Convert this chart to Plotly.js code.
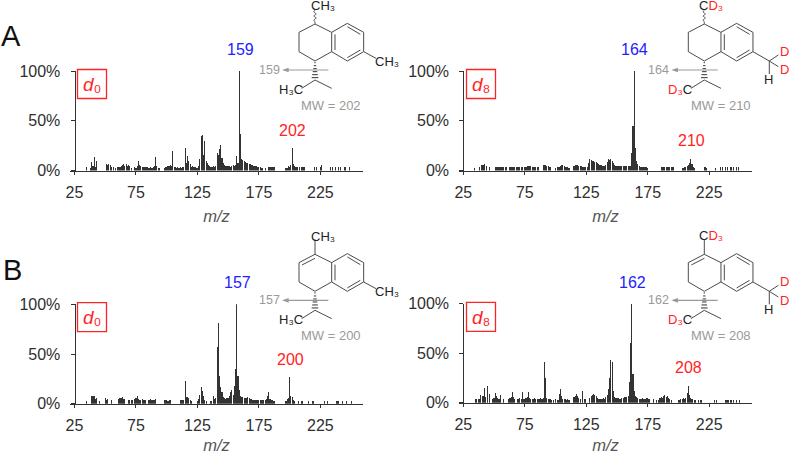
<!DOCTYPE html>
<html><head><meta charset="utf-8">
<script src="https://cdn.plot.ly/plotly-3.0.1.min.js"></script>
<style>html,body{margin:0;padding:0;background:#fff}#c{width:789px;height:454px}</style>
</head><body><div id="c"></div>
<script>
const tickVals=[25,75,125,175,225];
const tickPct=[0,50,100];
const tickPctText=['0%','50%','100%'];

const mzA0=[35,38,39,40,41,42,43,51,52,53,
54,55,57,58,60,61,62,63,64,65,
66,67,68,69,70,71,74,75,76,77,
78,79,80,81,82,83,84,85,86,87,
88,89,90,91,92,93,94,98,99,100,
101,102,103,104,105,106,107,108,109,110,
111,112,113,114,115,116,117,118,119,120,
121,122,123,124,125,126,127,128,129,130,
131,132,133,134,135,136,137,138,139,140,
141,142,143,144,145,146,147,148,149,150,
151,152,153,154,155,156,157,158,159,160,
161,162,163,164,165,166,167,168,169,170,
171,172,173,174,175,176,177,178,180,183,
184,185,186,187,188,197,198,199,200,201,
202,203,204,205,206,208,210,211,212,220,
222,225,226,233,235,237,240,241,245,249];
const intA0=[4,3,9,5,14,4,10,7,6,7,
6,4,4,3,4,4,4,5,6,7,
5,7,5,6,5,3,4,3,5,10,
6,5,4,4,4,4,4,3,3,4,
3,4,5,14,5,3,3,3,4,4,
5,5,6,5,20,4,4,3,4,3,
4,3,4,4,23,8,15,10,7,4,
5,4,4,3,3,5,12,35,36,16,
30,10,8,6,5,4,4,5,4,5,
18,16,22,26,13,8,6,5,5,5,
5,4,5,6,5,6,15,8,100,37,
12,11,10,9,8,8,7,7,6,6,
5,5,5,4,4,4,3,3,3,4,
4,4,4,4,4,3,3,5,4,6,
23,7,5,4,4,4,4,4,4,4,
4,4,6,4,4,4,4,4,4,4];

const mzA8=[34,38,40,41,42,44,46,51,52,53,
54,55,56,57,58,59,60,63,64,65,
66,67,68,69,70,71,72,73,75,76,
77,78,79,80,81,82,83,84,85,86,
90,91,92,93,94,95,96,100,102,103,
104,105,106,107,108,109,110,111,115,116,
117,118,119,120,121,122,123,124,126,127,
128,129,130,131,132,133,134,135,136,137,
138,139,140,141,142,143,144,145,146,147,
148,149,150,151,152,153,154,155,156,157,
158,159,160,161,162,163,164,165,166,167,
168,169,170,171,172,173,174,175,186,187,
188,189,190,191,192,193,194,195,196,203,
204,205,206,207,208,209,210,211,212,213,
221,222,223,230,234,236,238,240,242,243,
245,247,249];
const intA8=[3,4,6,6,7,5,4,4,4,4,
4,4,4,4,4,4,4,4,4,4,
4,4,4,4,4,4,4,4,4,4,
5,5,5,5,4,4,4,4,4,4,
6,6,6,5,5,4,4,3,4,4,
5,6,6,5,4,4,4,3,5,6,
6,6,5,5,5,4,4,4,4,8,
12,11,10,10,9,9,8,7,6,6,
5,5,5,6,9,12,11,12,10,8,
6,5,5,5,5,5,5,5,5,5,
5,5,5,5,18,45,100,23,10,7,
5,4,4,4,4,4,4,3,4,4,
4,4,4,4,4,4,4,4,4,3,
3,4,4,5,6,8,12,7,4,3,
4,4,3,3,4,4,4,4,4,4,
4,4,4];

const mzB0=[35,39,40,41,42,43,45,50,51,52,
55,61,62,63,64,65,66,69,70,71,
72,74,75,76,77,78,79,80,81,82,
83,85,86,87,88,89,90,91,98,99,
100,101,102,103,111,112,113,114,115,116,
117,118,119,120,125,126,127,128,129,130,
131,132,136,138,139,140,141,142,143,144,
145,146,147,148,149,150,151,152,153,154,
155,156,157,158,159,160,161,162,163,164,
165,166,167,168,169,170,171,172,173,174,
175,176,177,178,179,180,181,182,183,184,
185,186,187,188,197,198,199,200,201,202,
203,204,207,210,215,219,228,231,238,239,
240,243,246,250];
const intB0=[3,8,8,8,5,6,3,6,4,5,
4,5,6,6,7,5,5,4,4,4,
4,5,6,8,5,4,4,5,4,4,
4,4,4,5,4,4,4,5,4,4,
4,3,4,4,4,4,4,4,23,7,
7,6,4,3,3,5,9,17,13,8,
4,3,3,8,5,6,57,81,28,17,
12,7,6,5,6,6,8,12,14,9,
18,35,100,28,14,8,7,7,6,6,
6,7,6,5,5,4,4,4,4,4,
4,4,4,4,4,4,5,8,12,5,
4,4,3,3,3,5,6,27,8,7,
4,3,3,3,3,3,3,3,3,3,
3,3,3,3];

const mzB8=[35,36,37,38,39,41,42,43,45,46,
49,50,51,52,53,54,55,58,62,63,
64,65,66,67,69,70,71,72,73,74,
75,76,77,78,79,80,81,82,83,84,
85,86,87,88,89,90,91,92,93,94,
95,96,97,98,100,102,103,104,105,106,
107,108,109,110,111,115,116,117,118,119,
120,122,124,128,129,130,131,132,133,134,
135,136,137,138,139,140,141,142,143,144,
145,146,147,148,149,150,151,152,153,154,
155,156,157,158,159,160,161,162,163,164,
165,166,167,168,169,170,171,172,173,174,
175,176,180,182,184,185,186,187,188,189,
190,191,192,193,194,200,201,202,203,204,
205,206,207,208,209,210,211,213,214,216,
218,219,229,231,238,239,240,241,242,243,
245,247,250];
const intB8=[4,4,4,4,8,7,15,6,17,9,
4,5,10,7,5,4,8,4,4,5,
6,11,6,4,4,4,5,4,11,4,
4,5,6,11,5,4,4,4,5,4,
4,4,4,5,4,5,41,25,5,4,
4,4,3,3,4,3,9,14,7,4,
4,4,3,4,3,6,7,9,7,5,
4,12,4,5,7,8,9,8,7,5,
4,4,4,4,5,4,6,8,14,25,
43,41,12,6,5,5,5,4,4,5,
5,6,6,6,7,21,60,100,29,12,
7,6,5,4,4,4,5,4,4,5,
5,4,4,3,3,5,6,5,7,8,
6,7,5,4,3,3,3,4,4,5,
4,5,10,17,8,5,4,3,3,3,
3,3,3,3,3,3,3,3,3,3,
3,3,3];

const W=789,H=454;
const px=v=>v/W, py=v=>1-v/H;
const RED='#ff2424',BLUE='#2222ff',GREY='#9a9a9a',INK='#2f2f2f',BOND='#4a4a4a';
const FAM='"Liberation Sans",Arial,sans-serif';

const panels=[
 {n:'',  mz:mzA0,val:intA0,l:70,  r:363,  ax:74.5,  top:71,   bot:170.5,peak:'159',px:240,  py:50,  mw:'202',mx:292.3,my:130,  box:'\u2080',bl:77.5, bt:69.5},
 {n:'2', mz:mzA8,val:intA8,l:458.7,r:752.3,ax:463.3,top:71,   bot:170.5,peak:'164',px:634.7,py:50,  mw:'210',mx:691,  my:140.7,box:'\u2088',bl:466.5,bt:69.5},
 {n:'3', mz:mzB0,val:intB0,l:70,  r:363,  ax:74.5,  top:304.3,bot:403.7,peak:'157',px:237,  py:282.7,mw:'200',mx:290,  my:359,  box:'\u2080',bl:77.5, bt:302.7},
 {n:'4', mz:mzB8,val:intB8,l:458.7,r:752.3,ax:463.3,top:303.7,bot:402.7,peak:'162',px:632.3,py:282,  mw:'208',mx:688.7,my:367.7,box:'\u2088',bl:466.5,bt:302.4}
];
const traces=[];
const layout={width:W,height:H,margin:{l:0,r:0,t:0,b:0},paper_bgcolor:'#fff',plot_bgcolor:'rgba(0,0,0,0)',
  showlegend:false,bargap:0,font:{family:FAM,color:INK},annotations:[],shapes:[]};

function note(text,x,y,size,color){
  layout.annotations.push({text,x:px(x),y:py(y),xref:'paper',yref:'paper',xanchor:'center',yanchor:'middle',
    showarrow:false,font:{size,color,family:FAM},borderpad:0});
}
function seg(x0,y0,x1,y1,color,width){
  layout.shapes.push({type:'line',xref:'paper',yref:'paper',x0:px(x0),y0:py(y0),x1:px(x1),y1:py(y1),line:{color:color||BOND,width:width||1},layer:'above'});
}

panels.forEach(p=>{
  const xa='xaxis'+p.n,ya='yaxis'+p.n;
  const span=1.2295;
  const r0=25-(p.ax-p.l)/span, r1=25+(p.r-p.ax)/span;
  traces.push({type:'bar',x:p.mz,y:p.val,width:0.9,marker:{color:'#333333',line:{width:0}},xaxis:'x'+p.n,yaxis:'y'+p.n,hoverinfo:'x+y'});
  layout[xa]={domain:[px(p.l),px(p.r)],range:[r0,r1],anchor:'y'+p.n,tickmode:'array',tickvals:tickVals,ticks:'outside',ticklen:3,tickwidth:1,tickcolor:'#333',
    showline:true,linecolor:'#333',linewidth:1,showgrid:false,zeroline:false,tickfont:{size:16,color:INK},ticklabelstandoff:4,
    title:{text:'<i>m/z</i>',font:{size:16.5,color:'#555'},standoff:10}};
  layout[ya]={domain:[py(p.bot),py(p.top)],range:[0,100],anchor:'free',position:px(p.ax),tickmode:'array',tickvals:tickPct,ticktext:tickPctText,
    ticks:'outside',ticklen:4,tickwidth:1,tickcolor:'#333',showline:true,linecolor:'#333',linewidth:1,showgrid:false,zeroline:false,
    tickfont:{size:16,color:INK},ticklabelstandoff:7};
  note(p.peak,p.px,p.py,16,BLUE);
  note(p.mw,p.mx,p.my,16,RED);
  layout.shapes.push({type:'rect',xref:'paper',yref:'paper',x0:px(p.bl),x1:px(p.bl+29),y0:py(p.bt),y1:py(p.bt+29),line:{color:RED,width:1.3},layer:'above'});
  note('<i>d</i>'+p.box,p.bl+14.5,p.bt+15,19,RED);
});

function molecule(dx,dy,reduced,deut,frag,mass){
  const X=v=>v/3+dx, Y=v=>v/3+dy;
  const L=(a,b,c,d,col,w)=>seg(X(a),Y(b),X(c),Y(d),col,w);
  const ring=[[945,72],[897,97],[897,155],[945,183],[995,155],[995,97],[945,72]];
  for(let i=0;i<6;i++)L(ring[i][0],ring[i][1],ring[i+1][0],ring[i+1][1]);
  const aro=[[995,97],[1042,70],[1091,97],[1091,155],[1042,183],[995,155]];
  for(let i=0;i<5;i++)L(aro[i][0],aro[i][1],aro[i+1][0],aro[i+1][1]);
  L(1005,103,1005,150);L(1042,80,1081,103);L(1042,173,1081,150);
  if(reduced){
    L(945,28,945,72);
    L(945,84,906,104);
  }else{
    const w=[[945,30],[941,36],[949,42],[941,48],[949,54],[941,60],[945,66],[945,72]];
    for(let i=0;i<7;i++)L(w[i][0],w[i][1],w[i+1][0],w[i+1][1],BOND,0.8);
  }
  for(let i=0;i<6;i++){const y=188+i*9,hw=2+i*1.6;L(945-hw,y,945+hw,y,'#333',1);}
  L(945,240,905,265);L(945,240,995,265);
  L(985,210,858,210,GREY,1.2);
  layout.shapes.push({type:'path',xref:'paper',yref:'paper',fillcolor:GREY,line:{width:0},layer:'above',
    path:'M '+px(X(846))+' '+py(Y(210))+' L '+px(X(866))+' '+py(Y(203))+' L '+px(X(866))+' '+py(Y(217))+' Z'});
  note(frag,X(808),Y(210),12.5,GREY);
  const sm=13, blk='#222';
  if(deut){
    note('C<span style="color:'+RED+'">D\u2083</span>',X(966),Y(16),sm,blk);
    note('<span style="color:'+RED+'">D\u2083</span>C',X(873),Y(268),sm,blk);
    L(1091,155,1140,183);L(1140,183,1167,165);L(1140,183,1167,200);L(1140,183,1140,222);
    note('D',X(1185),Y(155),13,RED);note('D',X(1185),Y(210),13,RED);note('H',X(1137),Y(238),13,blk);
  }else{
    note('CH\u2083',X(970),Y(18),sm,blk);
    note('H\u2083C',X(872),Y(268),sm,blk);
    L(1091,155,1128,175);
    note('CH\u2083',X(1162),Y(185),sm,blk);
  }
  note('MW = '+mass,X(994),Y(315),13,GREY);
}
const dxR=389.3, dyB=230.3;
molecule(0,0,false,false,'159','202');
molecule(dxR,0,false,true,'164','210');
molecule(0,dyB,true,false,'157','200');
molecule(dxR,dyB,true,true,'162','208');

note('A',11,36,29,'#111');
note('B',12,270,29,'#111');

Plotly.newPlot('c',traces,layout,{staticPlot:true,displayModeBar:false});
</script></body></html>
